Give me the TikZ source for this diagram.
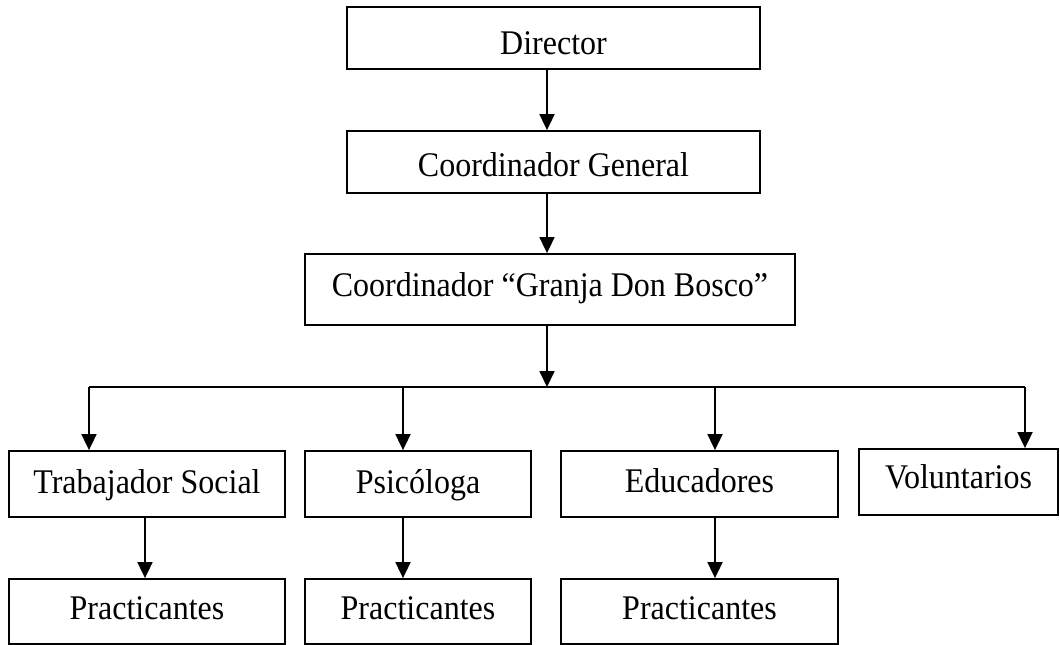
\documentclass[tikz,border=0pt]{standalone}
\usepackage{fontspec}
\usepackage{graphicx}
\setmainfont{Liberation Serif}
\usetikzlibrary{arrows.meta}
\newcommand{\vst}[1]{\scalebox{1}[1.08]{#1}}
\begin{document}
\begin{tikzpicture}[x=1pt,y=-1pt,
  box/.style={draw=black,line width=1.8pt,rectangle,inner sep=0pt,
    font=\fontsize{32}{38}\selectfont,text=black,text depth=0pt},
  bl/.style={text height=#1},
  conn/.style={draw=black,line width=1.8pt},
  arr/.style={conn,-{Triangle[width=15pt,length=16pt]}}]
\useasboundingbox (0,0) rectangle (1060,645);
\fill[white] (0,0) rectangle (1060,645);
\node[box,bl=32pt,minimum width=413pt,minimum height=62pt] (dir) at (553.5,38) {\vst{Director}};
\node[box,bl=28pt,minimum width=413pt,minimum height=62pt] (cg) at (553.5,162) {\vst{Coordinador General}};
\node[box,bl=14pt,minimum width=490pt,minimum height=71pt] (granja) at (550,289.5) {\vst{Coordinador “Granja Don Bosco”}};
\node[box,bl=18pt,minimum width=276pt,minimum height=66pt] (trab) at (147,484) {\vst{Trabajador Social}};
\node[box,bl=18pt,minimum width=226pt,minimum height=66pt] (psic) at (418,484) {\vst{Psicóloga}};
\node[box,bl=16pt,minimum width=277pt,minimum height=66pt] (educ) at (699.5,484) {\vst{Educadores}};
\node[box,bl=12pt,minimum width=199pt,minimum height=66pt] (vol) at (958.5,482) {\vst{Voluntarios}};
\node[box,bl=16pt,minimum width=276pt,minimum height=65pt] (p1) at (147,611.5) {\vst{Practicantes}};
\node[box,bl=16pt,minimum width=226pt,minimum height=65pt] (p2) at (418,611.5) {\vst{Practicantes}};
\node[box,bl=16pt,minimum width=277pt,minimum height=65pt] (p3) at (699.5,611.5) {\vst{Practicantes}};
\coordinate (ax) at (547,387);
\coordinate (hl) at (89,387);
\coordinate (hr) at (1025,387);
\coordinate (xp) at (403,387);
\coordinate (xe) at (715,387);
\coordinate (xt) at (145,0);
\draw[arr] (dir.south -| ax) -- (cg.north -| ax);
\draw[arr] (cg.south -| ax) -- (granja.north -| ax);
\draw[arr] (granja.south -| ax) -- (ax);
\draw[conn] (hl) -- (hr);
\draw[arr] (hl) -- (trab.north -| hl);
\draw[arr] (xp) -- (psic.north -| xp);
\draw[arr] (xe) -- (educ.north -| xe);
\draw[arr] (hr) -- (vol.north -| hr);
\draw[arr] (trab.south -| xt) -- (p1.north -| xt);
\draw[arr] (psic.south -| xp) -- (p2.north -| xp);
\draw[arr] (educ.south -| xe) -- (p3.north -| xe);
\end{tikzpicture}
\end{document}
